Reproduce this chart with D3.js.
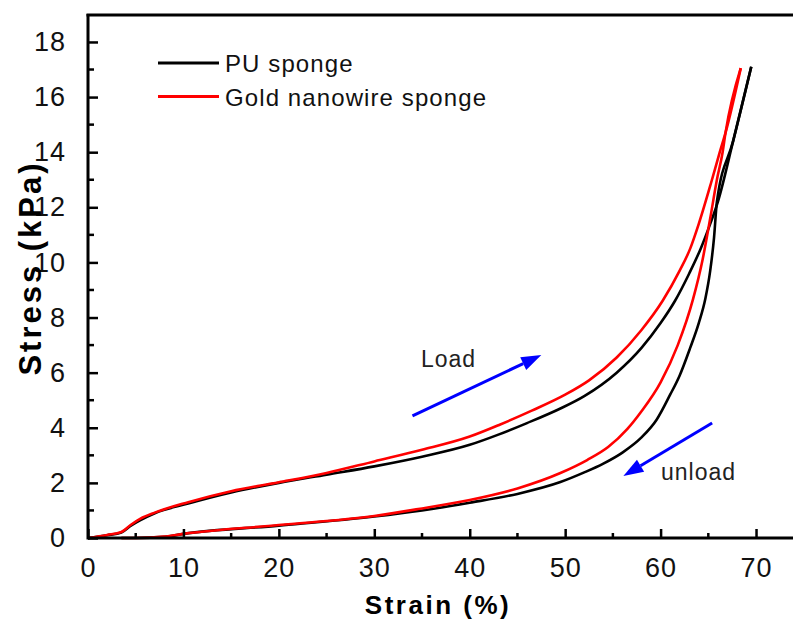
<!DOCTYPE html>
<html><head><meta charset="utf-8">
<script src="https://cdn.jsdelivr.net/npm/d3@7"></script>
<style>body{margin:0;background:#fff}svg{display:block}</style>
</head><body>
<svg id="c" width="793" height="623"></svg>
<script>
// ---- data (strain %, stress kPa) ----
const puLoadStrain   = [0, 2, 3.5, 4.5, 5.5, 7, 10.5, 15, 20, 25, 30, 35, 40, 43, 46, 49.5, 52, 55.4, 58, 60, 61.5, 63, 64.2, 65.2, 66, 67.6, 69.5];
const puLoadStress   = [0, 0.1, 0.2, 0.45, 0.65, 0.9, 1.25, 1.65, 2.0, 2.3, 2.6, 2.95, 3.38, 3.75, 4.17, 4.7, 5.15, 6.0, 6.9, 7.8, 8.6, 9.6, 10.5, 11.4, 12.2, 14.4, 17.1];
const puUnloadStrain = [3.5, 5, 8, 10, 20, 30, 35, 40, 45, 49.5, 52, 54, 56, 58, 59.6, 61, 62, 63.1, 64, 64.7, 65.2, 65.6, 65.9, 67.6, 69.5];
const puUnloadStress = [0, 0, 0.04, 0.15, 0.45, 0.78, 1.0, 1.28, 1.6, 2.03, 2.38, 2.7, 3.1, 3.65, 4.3, 5.2, 5.9, 6.9, 7.8, 8.7, 9.7, 10.9, 12.2, 14.4, 17.1];
const auLoadStrain   = [0, 2, 3.5, 4.5, 5.5, 7, 10.5, 15, 20, 25, 30, 35, 40, 43.2, 46.5, 50, 52.5, 55.4, 58, 60.2, 62, 63.1, 64, 65.3, 66.2, 66.8, 68.4];
const auLoadStress   = [0, 0.11, 0.22, 0.48, 0.7, 0.92, 1.3, 1.7, 2.02, 2.36, 2.78, 3.2, 3.68, 4.12, 4.62, 5.2, 5.72, 6.55, 7.55, 8.6, 9.7, 10.5, 11.4, 12.9, 14.0, 14.7, 17.05];
const auUnloadStrain = [3.5, 5, 8, 10, 20, 30, 34.6, 40, 45, 49.5, 52.3, 54.5, 56.5, 58, 60, 61.8, 63.4, 64.4, 65.2, 65.9, 66.5, 66.8, 68.4];
const auUnloadStress = [0, 0, 0.05, 0.15, 0.47, 0.8, 1.05, 1.38, 1.8, 2.36, 2.83, 3.3, 3.95, 4.6, 5.65, 7.0, 8.67, 10.1, 11.6, 13.0, 14.0, 14.7, 17.05];
const xTicks = [0, 10, 20, 30, 40, 50, 60, 70];
const yTicks = [0, 2, 4, 6, 8, 10, 12, 14, 16, 18];
const seriesNames = ["PU sponge", "Gold nanowire sponge"];
const seriesColors = ["#000000", "#ff0000"];
const loadArrow = [[34.0, 4.43], [47.5, 6.64]];
const unloadArrow = [[65.4, 4.17], [56.1, 2.25]];

// ---- layout ----
const svg = d3.select("#c");
const x = d3.scaleLinear().domain([0, 74]).range([88, 794.2]);
const y = d3.scaleLinear().domain([0, 19]).range([538, 14.4]);
const FONT = "'Liberation Sans', Arial, sans-serif";

const line = d3.line().x(d => x(d[0])).y(d => y(d[1])).curve(d3.curveMonotoneX);
const zip = (a, b) => a.map((v, i) => [v, b[i]]);

const curves = [
  {pts: zip(puLoadStrain, puLoadStress), c: seriesColors[0]},
  {pts: zip(puUnloadStrain, puUnloadStress), c: seriesColors[0]},
  {pts: zip(auLoadStrain, auLoadStress), c: seriesColors[1]},
  {pts: zip(auUnloadStrain, auUnloadStress), c: seriesColors[1]},
];
svg.append("g").selectAll("path").data(curves).join("path")
  .attr("d", d => line(d.pts)).attr("fill", "none")
  .attr("stroke", d => d.c).attr("stroke-width", 2.6).attr("stroke-linejoin", "round");

// ---- axes ----
const xAxis = d3.axisBottom(x).tickValues(xTicks).tickSizeInner(-9).tickSizeOuter(0).tickPadding(20);
const gx = svg.append("g").attr("transform", "translate(0,538)").call(xAxis);
gx.select(".domain").remove();
gx.selectAll(".tick line").attr("stroke", "#000").attr("stroke-width", 2.5);
gx.selectAll(".tick text").attr("font-family", FONT).attr("font-size", 27).attr("fill", "#111").attr("letter-spacing", "1px");
const xMinor = d3.range(5, 74, 10);
svg.append("g").selectAll("line").data(xMinor).join("line")
  .attr("x1", d => x(d)).attr("x2", d => x(d)).attr("y1", 538).attr("y2", 533)
  .attr("stroke", "#000").attr("stroke-width", 2.5);

const yAxis = d3.axisLeft(y).tickValues(yTicks).tickSizeInner(-10).tickSizeOuter(0).tickPadding(22);
const gy = svg.append("g").attr("transform", "translate(88,0)").call(yAxis);
gy.select(".domain").remove();
gy.selectAll(".tick line").attr("stroke", "#000").attr("stroke-width", 2.5);
gy.selectAll(".tick text").attr("font-family", FONT).attr("font-size", 27).attr("fill", "#111").attr("letter-spacing", "1px");
const yMinor = d3.range(1, 19, 2);
svg.append("g").selectAll("line").data(yMinor).join("line")
  .attr("x1", 88).attr("x2", 94).attr("y1", d => y(d)).attr("y2", d => y(d))
  .attr("stroke", "#000").attr("stroke-width", 2.5);

// spines
svg.append("line").attr("x1", 88).attr("x2", 793).attr("y1", 538).attr("y2", 538).attr("stroke", "#000").attr("stroke-width", 3);
svg.append("line").attr("x1", 88).attr("x2", 88).attr("y1", 14).attr("y2", 539.5).attr("stroke", "#000").attr("stroke-width", 3);
svg.append("line").attr("x1", 86.5).attr("x2", 793).attr("y1", 15).attr("y2", 15).attr("stroke", "#000").attr("stroke-width", 3);

// axis titles
svg.append("text").attr("x", 438).attr("y", 614).attr("text-anchor", "middle")
  .attr("font-family", FONT).attr("font-weight", "bold").attr("font-size", 26).attr("letter-spacing", "2.5px")
  .text("Strain (%)");
svg.append("text").attr("transform", "translate(41,268) rotate(-90)").attr("text-anchor", "middle")
  .attr("font-family", FONT).attr("font-weight", "bold").attr("font-size", 31).attr("letter-spacing", "3px")
  .text("Stress (kPa)");

// legend
const lg = svg.append("g");
seriesNames.forEach((n, i) => {
  const yy = 63 + i * 33.5;
  lg.append("line").attr("x1", 158).attr("x2", 219).attr("y1", yy).attr("y2", yy)
    .attr("stroke", seriesColors[i]).attr("stroke-width", 2.8);
  lg.append("text").attr("x", 225).attr("y", yy + 9).attr("font-family", FONT).attr("font-size", 24)
    .attr("letter-spacing", "1.1px").attr("fill", "#111").text(n);
});

// annotations (arrows)
function arrow(a) {
  const x1 = x(a[0][0]), y1 = y(a[0][1]), x2 = x(a[1][0]), y2 = y(a[1][1]);
  const ang = Math.atan2(y2 - y1, x2 - x1), L = 20, W = 7;
  const bx = x2 - L * Math.cos(ang), by = y2 - L * Math.sin(ang);
  svg.append("line").attr("x1", x1).attr("y1", y1).attr("x2", bx).attr("y2", by)
    .attr("stroke", "#0000ff").attr("stroke-width", 3);
  const px = -Math.sin(ang) * W, py = Math.cos(ang) * W;
  svg.append("path").attr("d", `M${x2},${y2}L${bx + px},${by + py}L${bx - px},${by - py}Z`).attr("fill", "#0000ff");
}
arrow(loadArrow);
arrow(unloadArrow);
svg.append("text").attr("x", 421).attr("y", 367).attr("font-family", FONT).attr("font-size", 23)
  .attr("letter-spacing", "1px").attr("fill", "#222").text("Load");
svg.append("text").attr("x", 661).attr("y", 480).attr("font-family", FONT).attr("font-size", 23)
  .attr("letter-spacing", "1px").attr("fill", "#222").text("unload");
</script>
</body></html>
